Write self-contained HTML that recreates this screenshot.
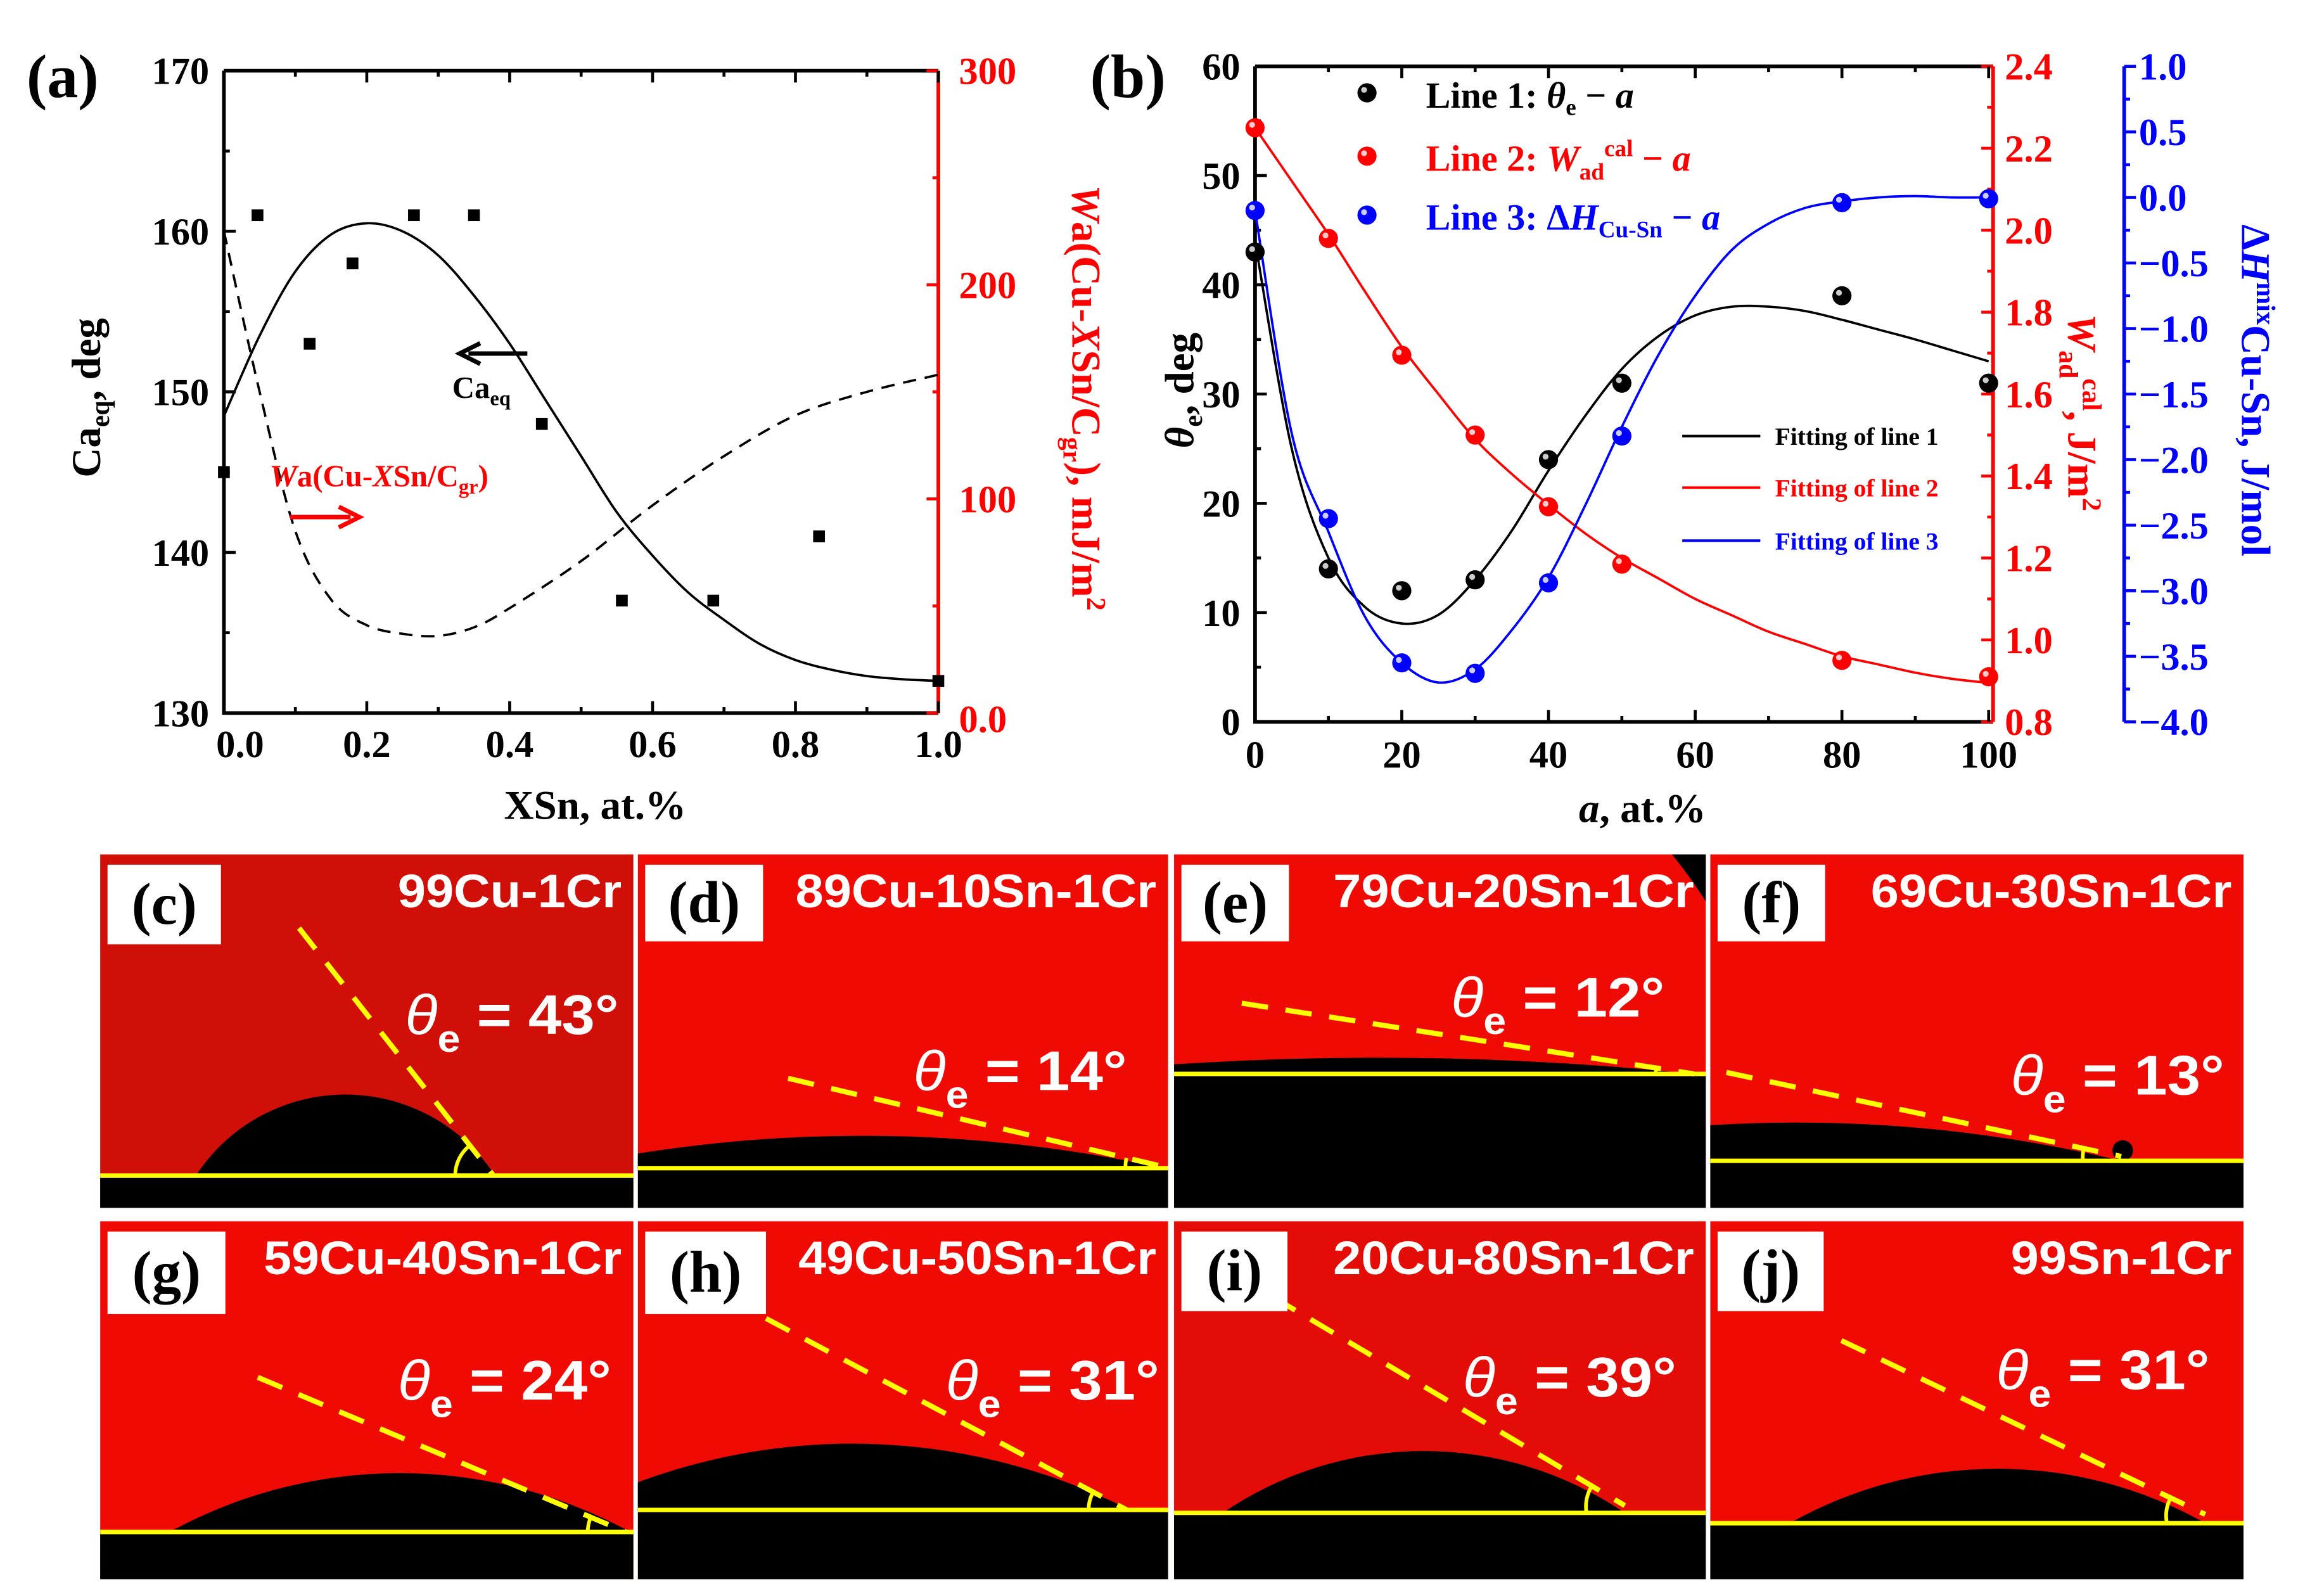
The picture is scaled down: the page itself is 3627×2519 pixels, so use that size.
<!DOCTYPE html>
<html><head><meta charset="utf-8"><style>
html,body{margin:0;padding:0;background:#fff;}
svg{display:block;}
.ser{font-family:"Liberation Serif",serif;font-weight:bold;}
.san{font-family:"Liberation Sans",sans-serif;font-weight:bold;}
</style></head><body>
<svg id="fig" width="3627" height="2519" viewBox="0 0 1560 1083.4" xmlns="http://www.w3.org/2000/svg">
<g id="pa"></g>
<g id="pb"></g>
<g id="photos"></g>
</svg>
<script>
// ---------- Panel (a) data ----------
const aX = [0, 0.047, 0.12, 0.18, 0.266, 0.35, 0.445, 0.557, 0.685, 0.833, 1.0];
const aCa = [145, 161, 153, 158, 161, 161, 148, 137, 137, 141, 132];
const aFitX = [0, 0.05, 0.1, 0.15, 0.2, 0.25, 0.3, 0.35, 0.4, 0.45, 0.5, 0.55, 0.6, 0.65, 0.7, 0.75, 0.8, 0.85, 0.9, 0.95, 1.0];
const aFitCa = [148.5, 153.5, 157.5, 159.8, 160.5, 160, 158.5, 156, 153, 149.5, 146, 142.5, 139.8, 137.5, 135.8, 134.3, 133.3, 132.7, 132.3, 132.1, 132];
const aWaX = [0, 0.05, 0.1, 0.15, 0.2, 0.25, 0.3, 0.35, 0.4, 0.5, 0.6, 0.7, 0.8, 0.9, 1.0];
const aWa = [225, 150, 85, 53, 41, 37, 36, 40, 49, 71, 97, 120, 139, 150, 158];
const aLeftTicks = [130, 140, 150, 160, 170];
const aRightTicks = [0, 100, 200, 300];
const aRightLabels = ["0.0", "100", "200", "300"];
const aXTicks = [0, 0.2, 0.4, 0.6, 0.8, 1.0];
const aXLabels = ["0.0", "0.2", "0.4", "0.6", "0.8", "1.0"];

// ---------- Panel (b) data ----------
const bX = [0, 10, 20, 30, 40, 50, 80, 100];
const bTheta = [43, 14, 12, 13, 24, 31, 39, 31];
const bW = [2.25, 1.98, 1.695, 1.50, 1.325, 1.185, 0.95, 0.91];
const bH = [-0.10, -2.45, -3.55, -3.63, -2.94, -1.82, -0.04, -0.01];
const bFitX = [0, 5, 10, 15, 20, 25, 30, 35, 40, 45, 50, 55, 60, 65, 70, 75, 80, 85, 90, 95, 100];
const bFitTheta = [44, 25, 15, 10.5, 9, 9.8, 13, 17.5, 23, 28, 32.3, 35.3, 37.2, 38, 38, 37.6, 36.8, 35.9, 35, 34, 33];
const bFitW = [2.25, 2.12, 1.99, 1.85, 1.715, 1.6, 1.49, 1.405, 1.33, 1.26, 1.2, 1.15, 1.1, 1.06, 1.02, 0.99, 0.96, 0.94, 0.92, 0.905, 0.895];
const bFitH = [-0.1, -1.8, -2.55, -3.2, -3.55, -3.7, -3.6, -3.3, -2.9, -2.35, -1.75, -1.2, -0.75, -0.4, -0.2, -0.08, -0.03, 0.0, 0.01, 0.0, 0.0];
const bXTicks = [0, 20, 40, 60, 80, 100];
const bLeftTicks = [0, 10, 20, 30, 40, 50, 60];
const bRedTicks = [0.8, 1.0, 1.2, 1.4, 1.6, 1.8, 2.0, 2.2, 2.4];
const bBlueTicks = [-4, -3.5, -3, -2.5, -2, -1.5, -1, -0.5, 0, 0.5, 1];

const NS = "http://www.w3.org/2000/svg";
function mk(parent, tag, attrs, txt) {
  const e = document.createElementNS(NS, tag);
  for (const k in attrs) e.setAttribute(k, attrs[k]);
  if (txt !== undefined) e.textContent = txt;
  parent.appendChild(e);
  return e;
}
function smooth(pts) {
  let d = "M" + pts[0][0] + "," + pts[0][1];
  for (let i = 0; i < pts.length - 1; i++) {
    const p0 = pts[Math.max(0, i - 1)], p1 = pts[i], p2 = pts[i + 1], p3 = pts[Math.min(pts.length - 1, i + 2)];
    const c1x = p1[0] + (p2[0] - p0[0]) / 6, c1y = p1[1] + (p2[1] - p0[1]) / 6;
    const c2x = p2[0] - (p3[0] - p1[0]) / 6, c2y = p2[1] - (p3[1] - p1[1]) / 6;
    d += " C" + c1x + "," + c1y + " " + c2x + "," + c2y + " " + p2[0] + "," + p2[1];
  }
  return d;
}

// ===== Panel A =====
(function () {
  const g = document.getElementById("pa");
  const L = 152, R = 637, T = 48, B = 484;
  const xs = v => L + v * (R - L);
  const yl = v => B - (v - 130) / 40 * (B - T);
  const yr = v => B - v / 300 * (B - T);
  let t = mk(g, "text", {x: 18, y: 66, "font-size": 42, class: "ser"}, "(a)");
  
  
  let f = mk(g, "path", {d: `M${L},${T} H${R} M${L},${T} V${B} H${R}`, stroke: "#000", "stroke-width": 2.5, fill: "none"});
  
  
  let ra = mk(g, "line", {x1: R, y1: T, x2: R, y2: B, stroke: "#f00", "stroke-width": 2.5});
  
  
  for (let v = 130; v <= 170; v += 5) {
    const major = v % 10 === 0;
    mk(g, "line", {x1: L, y1: yl(v), x2: L + (major ? 8 : 4), y2: yl(v), stroke: "#000", "stroke-width": 2});
  }
  aLeftTicks.forEach(v => {
    const e = mk(g, "text", {x: L - 10, y: yl(v) + 9, "font-size": 26, "text-anchor": "end", class: "ser"}, String(v));
    
    
  });
  for (let v = 0; v <= 300; v += 50) {
    const major = v % 100 === 0;
    mk(g, "line", {x1: R, y1: yr(v), x2: R - (major ? 8 : 4), y2: yr(v), stroke: "#f00", "stroke-width": 2});
  }
  aRightTicks.forEach((v, i) => {
    const e = mk(g, "text", {x: R + 14, y: yr(v) + 9 + (v === 0 ? 4 : 0), "font-size": 26, fill: "#f00", class: "ser"}, aRightLabels[i]);
    
    
  });
  for (let v = 0; v <= 1.0001; v += 0.1) {
    const major = Math.round(v * 10) % 2 === 0;
    mk(g, "line", {x1: xs(v), y1: B, x2: xs(v), y2: B - (major ? 8 : 4), stroke: "#000", "stroke-width": 2});
    mk(g, "line", {x1: xs(v), y1: T, x2: xs(v), y2: T + (major ? 8 : 4), stroke: "#000", "stroke-width": 2});
  }
  aXTicks.forEach((v, i) => {
    const e = mk(g, "text", {x: xs(v) + (i === 0 ? 11 : 0), y: B + 30, "font-size": 26, "text-anchor": "middle", class: "ser"}, aXLabels[i]);
    
    
  });
  let c = mk(g, "path", {d: smooth(aFitX.map((x, i) => [xs(x), yl(aFitCa[i])])), stroke: "#000", "stroke-width": 1.6, fill: "none"});
  
  
  c = mk(g, "path", {d: smooth(aWaX.map((x, i) => [xs(x), yr(aWa[i])])), stroke: "#000", "stroke-width": 1.6, fill: "none", "stroke-dasharray": "9,6"});
  
  
  aX.forEach((x, i) => {
    const r = mk(g, "rect", {x: xs(x) - 4, y: yl(aCa[i]) - 4, width: 8, height: 8, fill: "#000"});
    
    
  });
  let ar = mk(g, "path", {d: "M358,240 H318 M326,233 L312,240 L326,247", stroke: "#000", "stroke-width": 3, fill: "none"});
  
  
  t = mk(g, "text", {x: 307, y: 270, "font-size": 21, class: "ser"});
  
  
  t.innerHTML = 'Ca<tspan font-size="14" dy="5">eq</tspan>';
  t = mk(g, "text", {x: 183, y: 330, "font-size": 21, fill: "#f00", class: "ser"});
  
  
  t.innerHTML = '<tspan font-style="italic">W</tspan>a(Cu-<tspan font-style="italic">X</tspan>Sn/C<tspan font-size="14" dy="5">gr</tspan><tspan dy="-5">)</tspan>';
  ar = mk(g, "path", {d: "M197,351 H238 M230,344 L244,351 L230,358", stroke: "#f00", "stroke-width": 3, fill: "none"});
  
  
  t = mk(g, "text", {x: 0, y: 0, "font-size": 28, class: "ser", transform: "translate(68,270) rotate(-90)", "text-anchor": "middle"});
  
  
  t.innerHTML = 'Ca<tspan font-size="18" dy="6">eq</tspan><tspan dy="-6">, deg</tspan>';
  t = mk(g, "text", {x: 0, y: 0, "font-size": 28, fill: "#f00", class: "ser", transform: "translate(728,270) rotate(90)", "text-anchor": "middle"});
  
  
  t.innerHTML = '<tspan font-style="italic">W</tspan>a(Cu-<tspan font-style="italic">X</tspan>Sn/C<tspan font-size="18" dy="6">gr</tspan><tspan dy="-6">), mJ/m</tspan><tspan font-size="18" dy="-10">2</tspan>';
  t = mk(g, "text", {x: 404, y: 556, "font-size": 28, "text-anchor": "middle", class: "ser"}, "XSn, at.%");
  
  
})();

// ===== Panel B =====
(function () {
  const g = document.getElementById("pb");
  const L = 852, R = 1353, T = 45, B = 490, BA = 1442;
  const xs = v => L + v / 100 * (1350 - L);
  const yt = v => B - v / 60 * (B - T);
  const yw = v => B - (v - 0.8) / 1.6 * (B - T);
  const yh = v => B - (v + 4) / 5 * (B - T);
  let t = mk(g, "text", {x: 740, y: 66, "font-size": 42, class: "ser"}, "(b)");
  
  
  let f = mk(g, "path", {d: `M${L},${T} H${R} M${L},${T} V${B} H${R}`, stroke: "#000", "stroke-width": 2.5, fill: "none"});
  
  
  let ax = mk(g, "line", {x1: R, y1: T, x2: R, y2: B, stroke: "#f00", "stroke-width": 2.5});
  
  
  ax = mk(g, "line", {x1: BA, y1: T, x2: BA, y2: B, stroke: "#00f", "stroke-width": 2.5});
  
  
  for (let v = 0; v <= 60; v += 5) mk(g, "line", {x1: L, y1: yt(v), x2: L + (v % 10 === 0 ? 8 : 4), y2: yt(v), stroke: "#000", "stroke-width": 2});
  bLeftTicks.forEach(v => {
    const e = mk(g, "text", {x: L - 10, y: yt(v) + 9, "font-size": 26, "text-anchor": "end", class: "ser"}, String(v));
    
    
  });
  for (let v = 0.8; v <= 2.401; v += 0.1) mk(g, "line", {x1: R, y1: yw(v), x2: R - (Math.round(v * 10) % 2 === 0 ? 8 : 4), y2: yw(v), stroke: "#f00", "stroke-width": 2});
  bRedTicks.forEach(v => {
    const e = mk(g, "text", {x: R + 8, y: yw(v) + 9, "font-size": 26, fill: "#f00", class: "ser"}, v.toFixed(1));
    
    
  });
  for (let v = -4; v <= 1.001; v += 0.25) mk(g, "line", {x1: BA, y1: yh(v), x2: BA + (Math.abs(v * 2 - Math.round(v * 2)) < 0.01 ? 8 : 4), y2: yh(v), stroke: "#00f", "stroke-width": 2});
  bBlueTicks.forEach(v => {
    const e = mk(g, "text", {x: BA + 10, y: yh(v) + 9, "font-size": 26, fill: "#00f", class: "ser"}, (v < 0 ? "\u2212" : "") + Math.abs(v).toFixed(1));
    
    
  });
  for (let v = 0; v <= 100; v += 10) {
    const mj = v % 20 === 0;
    mk(g, "line", {x1: xs(v), y1: B, x2: xs(v), y2: B - (mj ? 8 : 4), stroke: "#000", "stroke-width": 2});
    mk(g, "line", {x1: xs(v), y1: T, x2: xs(v), y2: T + (mj ? 8 : 4), stroke: "#000", "stroke-width": 2});
  }
  bXTicks.forEach(v => {
    const e = mk(g, "text", {x: xs(v), y: B + 31, "font-size": 26, "text-anchor": "middle", class: "ser"}, String(v));
    
    
  });
  let c = mk(g, "path", {d: smooth(bFitX.map((x, i) => [xs(x), yt(bFitTheta[i])])), stroke: "#000", "stroke-width": 1.6, fill: "none"});
  
  
  c = mk(g, "path", {d: smooth(bFitX.map((x, i) => [xs(x), yw(bFitW[i])])), stroke: "#f00", "stroke-width": 1.6, fill: "none"});
  
  
  c = mk(g, "path", {d: smooth(bFitX.map((x, i) => [xs(x), yh(bFitH[i])])), stroke: "#00f", "stroke-width": 1.6, fill: "none"});
  
  
  function ball(cx, cy, col, name) {
    const e = mk(g, "circle", {cx: cx, cy: cy, r: 6.5, fill: col});
    
    
    mk(g, "circle", {cx: cx - 2, cy: cy - 2, r: 2, fill: "#fff", opacity: 0.8});
  }
  bX.forEach((x, i) => ball(xs(x), yt(bTheta[i]), "#000", "theta-point"));
  bX.forEach((x, i) => ball(xs(x), yw(bW[i]), "#f00", "wad-point"));
  bX.forEach((x, i) => ball(xs(x), yh(bH[i]), "#00f", "dh-point"));
  ball(928, 63, "#000", "legend-marker-line1");
  ball(928, 106, "#f00", "legend-marker-line2");
  ball(928, 146, "#00f", "legend-marker-line3");
  t = mk(g, "text", {x: 968, y: 73, "font-size": 25, class: "ser"});
  
  
  t.innerHTML = 'Line 1: <tspan font-style="italic">θ</tspan><tspan font-size="16" dy="5">e</tspan><tspan dy="-5"> − </tspan><tspan font-style="italic">a</tspan>';
  t = mk(g, "text", {x: 968, y: 116, "font-size": 25, fill: "#f00", class: "ser"});
  
  
  t.innerHTML = 'Line 2: <tspan font-style="italic">W</tspan><tspan font-size="16" dy="6">ad</tspan><tspan font-size="16" dy="-16">cal</tspan><tspan dy="10"> − </tspan><tspan font-style="italic">a</tspan>';
  t = mk(g, "text", {x: 968, y: 156, "font-size": 25, fill: "#00f", class: "ser"});
  
  
  t.innerHTML = 'Line 3: Δ<tspan font-style="italic">H</tspan><tspan font-size="16" dy="5">Cu-Sn</tspan><tspan dy="-5"> − </tspan><tspan font-style="italic">a</tspan>';
  [["#000", "Fitting of line 1", 296], ["#f00", "Fitting of line 2", 331], ["#00f", "Fitting of line 3", 367]].forEach((r, i) => {
    const l = mk(g, "line", {x1: 1142, y1: r[2], x2: 1195, y2: r[2], stroke: r[0], "stroke-width": 1.8});
    
    
    const e = mk(g, "text", {x: 1205, y: r[2] + 6, "font-size": 17, fill: r[0], class: "ser"}, r[1]);
    
    
  });
  t = mk(g, "text", {x: 0, y: 0, "font-size": 28, class: "ser", transform: "translate(810,265) rotate(-90)", "text-anchor": "middle"});
  
  
  t.innerHTML = '<tspan font-style="italic">θ</tspan><tspan font-size="18" dy="6">e</tspan><tspan dy="-6">, deg</tspan>';
  t = mk(g, "text", {x: 0, y: 0, "font-size": 28, fill: "#f00", class: "ser", transform: "translate(1404,280) rotate(90)", "text-anchor": "middle"});
  
  
  t.innerHTML = '<tspan font-style="italic">W</tspan><tspan font-size="18" dy="6">ad</tspan><tspan font-size="18" dy="-16">cal</tspan><tspan dy="10">, J/m</tspan><tspan font-size="18" dy="-10">2</tspan>';
  t = mk(g, "text", {x: 0, y: 0, "font-size": 28, fill: "#00f", class: "ser", transform: "translate(1522,265) rotate(90)", "text-anchor": "middle"});
  
  
  t.innerHTML = 'Δ<tspan font-style="italic">H</tspan><tspan font-size="18" dy="-10">mix</tspan><tspan dy="10">Cu-Sn, J/mol</tspan>';
  t = mk(g, "text", {x: 1115, y: 558, "font-size": 28, "text-anchor": "middle", class: "ser"});
  
  
  t.innerHTML = '<tspan font-style="italic">a</tspan>, at.%';
})();

// ===== Photos =====
(function () {
  const g = document.getElementById("photos");
  const P = [
    {x0: 68, x1: 430, y0: 580, y1: 820, gy: 798, dl: 133, dr: 336, dt: 743, ds: [203, 630, 335, 798], lab: "(c)", name: "99Cu-1Cr", nw: 152, ang: "43°", tx: 420, ty: 702, bw: 77, bh: 54, bg: "#d01008"},
    {x0: 433, x1: 793, y0: 580, y1: 820, gy: 793, dl: 380, dr: 790, dt: 771, ds: [535, 732, 790, 792], lab: "(d)", name: "89Cu-10Sn-1Cr", nw: 245, ang: "14°", tx: 765, ty: 740, bw: 80, bh: 52, bg: "#f00a04"},
    {x0: 797, x1: 1158, y0: 580, y1: 820, gy: 729, dl: 720, dr: 1150, dt: 718, ds: [843, 681, 1150, 729], lab: "(e)", name: "79Cu-20Sn-1Cr", nw: 245, ang: "12°", tx: 1130, ty: 690, bw: 73, bh: 52, bg: "#f00a04"},
    {x0: 1161, x1: 1523, y0: 580, y1: 820, gy: 788, dl: 1000, dr: 1440, dt: 762, ds: [1172, 728, 1440, 785], lab: "(f)", name: "69Cu-30Sn-1Cr", nw: 245, ang: "13°", tx: 1510, ty: 743, bw: 73, bh: 52, bg: "#f00a04"},
    {x0: 68, x1: 430, y0: 829, y1: 1072, gy: 1040, dl: 115, dr: 428, dt: 1000, ds: [175, 935, 425, 1040], lab: "(g)", name: "59Cu-40Sn-1Cr", nw: 243, ang: "24°", tx: 415, ty: 950, bw: 80, bh: 56, bg: "#f00a04"},
    {x0: 433, x1: 793, y0: 829, y1: 1072, gy: 1025, dl: 390, dr: 767, dt: 980, ds: [520, 895, 765, 1025], lab: "(h)", name: "49Cu-50Sn-1Cr", nw: 243, ang: "31°", tx: 787, ty: 950, bw: 82, bh: 56, bg: "#f00a04"},
    {x0: 797, x1: 1158, y0: 829, y1: 1072, gy: 1027, dl: 830, dr: 1103, dt: 985, ds: [838, 865, 1103, 1022], lab: "(i)", name: "20Cu-80Sn-1Cr", nw: 245, ang: "39°", tx: 1138, ty: 948, bw: 72, bh: 54, bg: "#e40c06"},
    {x0: 1161, x1: 1523, y0: 829, y1: 1072, gy: 1034, dl: 1215, dr: 1497, dt: 997, ds: [1250, 910, 1497, 1028], lab: "(j)", name: "99Sn-1Cr", nw: 150, ang: "31°", tx: 1500, ty: 943, bw: 72, bh: 54, bg: "#f00a04"}
  ];
  P.forEach((p, i) => {
    const pg = mk(g, "g", {});
    
    
    const cid = "clip" + i;
    const cp = mk(pg, "clipPath", {id: cid});
    mk(cp, "rect", {x: p.x0, y: p.y0, width: p.x1 - p.x0, height: p.y1 - p.y0});
    const inner = mk(pg, "g", {"clip-path": "url(#" + cid + ")"});
    mk(inner, "rect", {x: p.x0, y: p.y0, width: p.x1 - p.x0, height: p.y1 - p.y0, fill: p.bg});
    if (i === 2) mk(inner, "path", {d: "M1135,580 H1158 V612 Q1148,596 1135,580Z", fill: "#000"});
    mk(inner, "rect", {x: p.x0, y: p.gy, width: p.x1 - p.x0, height: p.y1 - p.gy, fill: "#000"});
    const a = (p.dr - p.dl) / 2, h = p.gy - p.dt;
    const Rr = (a * a + h * h) / (2 * h);
    const drop = mk(inner, "path", {d: `M${p.dl},${p.gy} A${Rr},${Rr} 0 0 1 ${p.dr},${p.gy} Z`, fill: "#000"});
    
    
    if (i === 3) mk(inner, "circle", {cx: 1441, cy: 781, r: 7, fill: "#000"});
    const gl = mk(inner, "line", {x1: p.x0, y1: p.gy, x2: p.x1, y2: p.gy, stroke: "#ff0", "stroke-width": 3});
    
    
    const dl = mk(inner, "line", {x1: p.ds[0], y1: p.ds[1], x2: p.ds[2], y2: p.ds[3], stroke: "#ff0", "stroke-width": 3.5, "stroke-dasharray": "18,12"});
    
    
    const r0 = 26;
    const ang = Math.atan2(p.ds[3] - p.ds[1], p.ds[2] - p.ds[0]);
    const ax = p.ds[2] - r0, ay = p.gy;
    const bx = p.ds[2] - r0 * Math.cos(ang), by = p.ds[3] - r0 * Math.sin(ang);
    mk(inner, "path", {d: `M${ax},${ay} A${r0},${r0} 0 0 1 ${bx},${by}`, stroke: "#ff0", "stroke-width": 2.5, fill: "none"});
    const lb = mk(pg, "rect", {x: p.x0 + 5, y: p.y0 + 7, width: p.bw, height: p.bh, fill: "#fff"});
    
    
    let t = mk(pg, "text", {x: p.x0 + 5 + p.bw / 2, y: p.y0 + 7 + p.bh / 2 + 13, "font-size": 40, "text-anchor": "middle", class: "ser"}, p.lab);
    
    
    t = mk(pg, "text", {x: p.x1 - 8 - p.nw, y: p.y0 + 36, "font-size": 32, fill: "#fff", textLength: p.nw, lengthAdjust: "spacingAndGlyphs", class: "san"}, p.name);
    
    
    t = mk(pg, "text", {x: p.tx - 145, y: p.ty, "font-size": 38, fill: "#fff", textLength: 145, lengthAdjust: "spacingAndGlyphs", class: "san"});
    
    
    t.innerHTML = '<tspan font-style="italic" font-weight="normal">θ</tspan><tspan font-size="26" dy="12">e</tspan><tspan dy="-12"> = ' + p.ang + '</tspan>';
  });
})();
</script>
</body></html>
